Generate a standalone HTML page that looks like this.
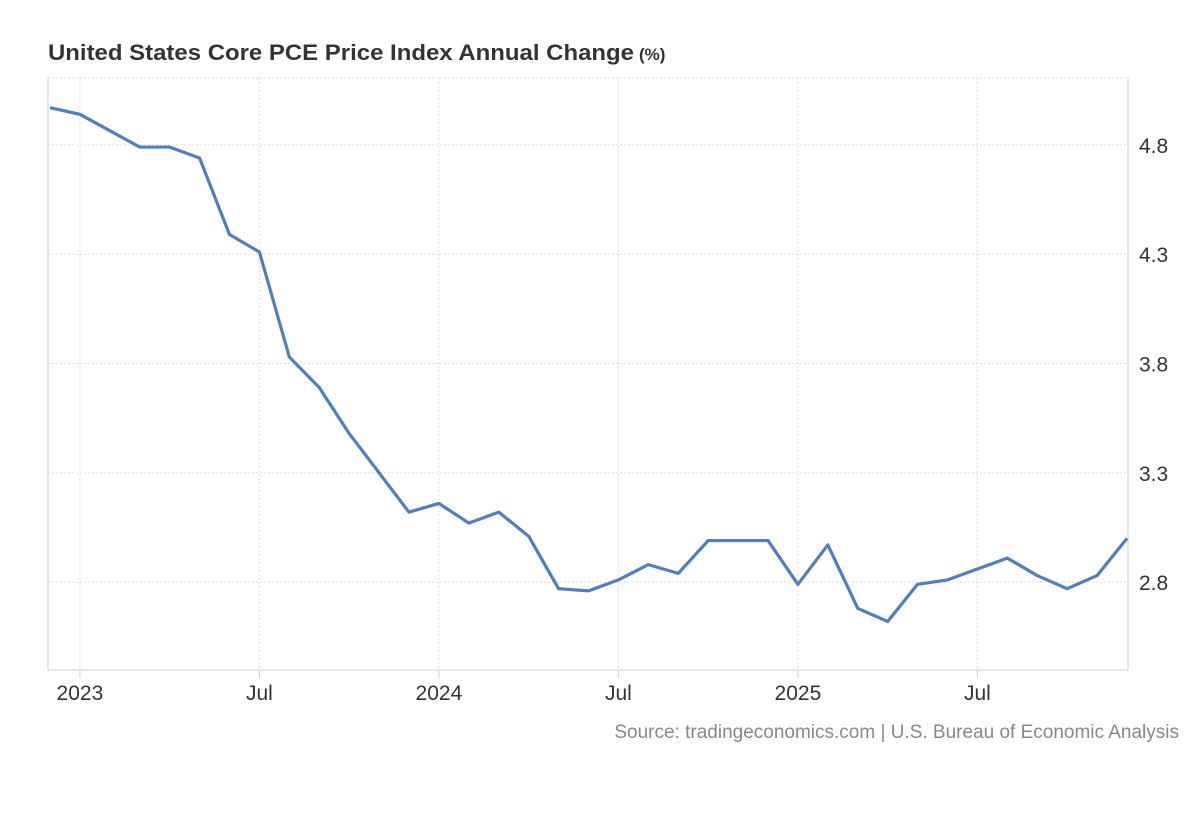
<!DOCTYPE html>
<html><head><meta charset="utf-8">
<style>
body{margin:0;background:#fff;font-family:"Liberation Sans",Arial,sans-serif;}
svg text{font-family:"Liberation Sans",Arial,sans-serif;}
</style></head>
<body>
<svg width="1200" height="820" id="c">
<text x="48" y="60" font-size="22" font-weight="bold" fill="#333" textLength="586" lengthAdjust="spacingAndGlyphs">United States Core PCE Price Index Annual Change</text>
<text x="639" y="60" font-size="17" font-weight="bold" fill="#333">(%)</text>
<text x="1179" y="738" font-size="19" fill="#888" text-anchor="end">Source: tradingeconomics.com | U.S. Bureau of Economic Analysis</text>
<g id="grid"></g><g id="axes"></g><g id="series"></g>
</svg>
<script>
const values=[4.97,4.94,4.865,4.79,4.79,4.74,4.39,4.31,3.83,3.69,3.48,3.30,3.12,3.16,3.07,3.12,3.01,2.77,2.76,2.81,2.88,2.84,2.99,2.99,2.99,2.79,2.97,2.68,2.62,2.79,2.81,2.86,2.91,2.83,2.77,2.83,3.00];
const yTicks=[2.8,3.3,3.8,4.3,4.8];
const xTickIdx=[1,7,13,19,25,31];
const xTickLabels=["2023","Jul","2024","Jul","2025","Jul"];
const NS="http://www.w3.org/2000/svg";
const L=48,R=1128,T=78,B=670,yMin=2.398,yMax=5.106;
const x=i=>50+i*(1077/36);
const y=v=>B-(v-yMin)/(yMax-yMin)*(B-T);
function mk(t,a,p){const e=document.createElementNS(NS,t);for(const k in a)e.setAttribute(k,a[k]);p.appendChild(e);return e;}
const g=document.getElementById('grid'),ax=document.getElementById('axes'),s=document.getElementById('series');
mk('line',{x1:L,x2:R,y1:T,y2:T,stroke:'#ddd','stroke-dasharray':'2,2'},g);
yTicks.forEach(v=>{
 const l=mk('line',{x1:L,x2:R,y1:y(v),y2:y(v),stroke:'#ddd','stroke-dasharray':'2,2'},g);
 
 
 const t=mk('text',{x:1139,y:y(v)+8,'font-size':21,fill:'#333'},ax);t.textContent=v.toFixed(1);
 
 
});
xTickIdx.forEach((i,k)=>{
 const l=mk('line',{x1:x(i),x2:x(i),y1:T,y2:B,stroke:'#ddd','stroke-dasharray':'2,2'},g);
 
 
 mk('line',{x1:x(i),x2:x(i),y1:B,y2:B+8,stroke:'#ccc'},ax);
 const t=mk('text',{x:x(i),y:700,'font-size':21,fill:'#333','text-anchor':'middle'},ax);t.textContent=xTickLabels[k];
 
 
});
mk('line',{x1:L,x2:L,y1:T,y2:B,stroke:'#ccc'},ax);
mk('line',{x1:R,x2:R,y1:T,y2:B,stroke:'#ccc'},ax);
mk('line',{x1:L,x2:R,y1:B,y2:B,stroke:'#ccc'},ax);
const p=mk('polyline',{points:values.map((v,i)=>x(i)+','+y(v)).join(' '),fill:'none',stroke:'#4e7fbf','stroke-width':3.2,'stroke-linejoin':'round'},s);


</script>
</body></html>
